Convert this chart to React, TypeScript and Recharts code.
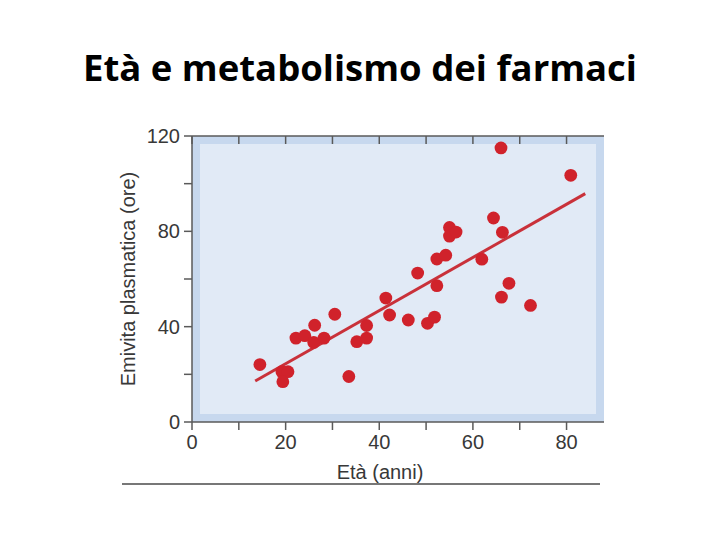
import React from 'react';
import {
  ScatterChart,
  Scatter,
  XAxis,
  YAxis,
  CartesianGrid,
  ReferenceArea
} from 'recharts';

// età (anni)
const ages = [
  14.5, 19.2, 20.5, 19.4, 22.2, 24.1, 26.2, 26.0, 28.2, 30.5, 33.5, 35.2,
  37.3, 37.3, 41.4, 42.2, 46.2, 48.2, 50.3, 51.8, 52.3, 52.3, 54.2, 55.0,
  55.0, 56.4, 61.9, 64.4, 66.0, 66.3, 66.1, 67.7, 72.3, 80.9
];
// emivita plasmatica (ore)
const halfLives = [
  24.1, 21.1, 21.1, 16.9, 35.2, 36.2, 40.6, 33.4, 35.2, 45.2, 19.1, 33.7,
  40.5, 35.2, 52.0, 44.9, 42.8, 62.5, 41.4, 44.0, 57.2, 68.4, 70.0, 81.6,
  78.0, 79.7, 68.3, 85.6, 115.0, 79.6, 52.4, 58.2, 48.9, 103.5
];
// retta di regressione (estremi)
const fitAges = [13.5, 84];
const fitHalfLives = [17.2, 95.8];

const xTicks = [0, 10, 20, 30, 40, 50, 60, 70, 80];
const yTicks = [0, 20, 40, 60, 80, 100, 120];

const points = ages.map((a, i) => ({ x: a, y: halfLives[i] }));
const fitLine = fitAges.map((a, i) => ({ x: a, y: fitHalfLives[i] }));

const DOT = '#d0222b';
const AXIS = '#5a5a5a';
const FONT = '"Liberation Sans", Arial, sans-serif';

const Dot = (props: any) => {
  const { cx, cy } = props;
  if (cx == null || cy == null) return <g />;
  return <circle cx={cx} cy={cy} r={6.4} fill={DOT} />;
};

const InnerPanel = (props: any) => {
  const { x, y, width, height } = props;
  return (
    <g>
      <rect x={x} y={y} width={width} height={height} fill="#c7d8ee" />
      <rect x={x + 8} y={y + 8} width={width - 16} height={height - 16} fill="#e1eaf6" />
    </g>
  );
};

const tickStyle = { fill: '#383838', fontSize: 20, fontFamily: FONT };

export default function App() {
  return (
    <div style={{ position: 'absolute', left: 0, top: 0, width: 720, height: 540, background: '#fff' }}>
      <div
        style={{
          position: 'absolute',
          left: 0,
          top: 42,
          width: 720,
          textAlign: 'center',
          fontFamily: '"Open Sans", sans-serif',
          fontWeight: 700,
          fontSize: 36.5,
          lineHeight: '50px',
          color: '#000'
        }}
      >
        Età e metabolismo dei farmaci
      </div>
      <div style={{ position: 'absolute', left: 122, top: 483, width: 478, height: 2, background: '#777' }} />
      <ScatterChart
        width={720}
        height={540}
        margin={{ top: 136, right: 116, bottom: 58, left: 112 }}
        style={{ position: 'absolute', left: 0, top: 0 }}
      >
        <CartesianGrid fill="#c7d8ee" stroke="none" vertical={false} horizontal={false} />
        <ReferenceArea x1={0} x2={88} y1={0} y2={120} shape={<InnerPanel />} ifOverflow="hidden" />
        <XAxis
          type="number"
          dataKey="x"
          domain={[0, 88]}
          ticks={xTicks}
          interval={0}
          allowDataOverflow
          stroke={AXIS}
          strokeWidth={1.5}
          tickSize={8}
          tickMargin={5}
          height={60}
          tick={tickStyle}
          tickFormatter={(v: number) => (v % 20 === 0 ? String(v) : '')}
          label={{ value: 'Età (anni)', position: 'insideBottom', offset: 3, dx: -18, fill: '#383838', fontSize: 20, fontFamily: FONT }}
        />
        <XAxis
          xAxisId="top"
          orientation="top"
          type="number"
          dataKey="x"
          domain={[0, 88]}
          ticks={xTicks}
          interval={0}
          allowDataOverflow
          mirror
          stroke={AXIS}
          strokeWidth={1.5}
          tickSize={8}
          tickFormatter={() => ''}
        />
        <YAxis
          type="number"
          dataKey="y"
          domain={[0, 120]}
          ticks={yTicks}
          interval={0}
          allowDataOverflow
          width={80}
          stroke={AXIS}
          strokeWidth={1.5}
          tickSize={8}
          tickMargin={4}
          tick={tickStyle}
          tickFormatter={(v: number) => (v % 40 === 0 ? String(v) : '')}
          label={{
            value: 'Emivita plasmatica (ore)',
            angle: -90,
            position: 'insideLeft',
            offset: 16,
            fill: '#383838',
            fontSize: 20,
            fontFamily: FONT,
            style: { textAnchor: 'middle' }
          }}
        />
        <YAxis
          yAxisId="right"
          orientation="right"
          type="number"
          dataKey="y"
          domain={[0, 120]}
          ticks={yTicks}
          interval={0}
          allowDataOverflow
          mirror
          width={0}
          stroke={AXIS}
          strokeWidth={1.5}
          tickSize={8}
          tickFormatter={() => ''}
        />
        <Scatter
          data={fitLine}
          line={{ stroke: '#c9313a', strokeWidth: 3 }}
          shape={() => <g />}
          isAnimationActive={false}
        />
        <Scatter data={points} shape={<Dot />} isAnimationActive={false} />
      </ScatterChart>
    </div>
  );
}
